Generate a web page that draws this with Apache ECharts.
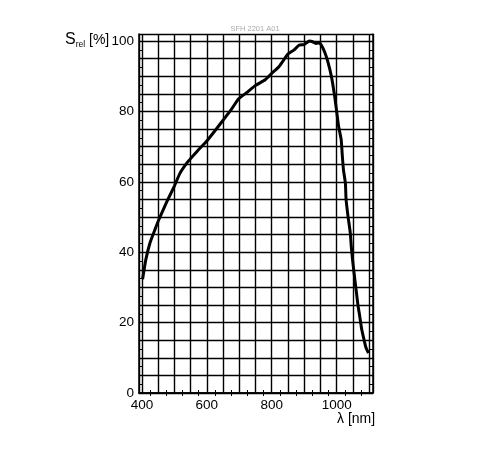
<!DOCTYPE html>
<html>
<head>
<meta charset="utf-8">
<script src="https://cdn.jsdelivr.net/npm/echarts@6/dist/echarts.min.js"></script>
<style>
  html, body { margin: 0; padding: 0; background: #fff; }
  #chart { width: 485px; height: 455px; }
</style>
</head>
<body>
<div id="chart"></div>
<script>
// relative spectral sensitivity
const wavelengths = [402, 412, 425, 440, 450, 475, 500, 517, 538, 550, 575, 600, 625, 650, 675, 698,
    725, 750, 780, 800, 822, 850, 868, 884, 900, 916, 926, 937, 947, 953, 963, 973, 984, 994,
    1000, 1006, 1014, 1017, 1021, 1027, 1029, 1035, 1042, 1045, 1050, 1056, 1061, 1066, 1071,
    1077, 1084, 1090, 1098];
const sensitivity = [32.3, 37.9, 42.7, 46.4, 48.8, 54, 58.8, 62.4, 65.3, 66.6, 69.2, 71.6, 74.5, 77.5, 80.5, 83.6,
    85.5, 87.4, 89, 90.8, 92.7, 96.3, 97.4, 98.8, 99, 100, 99.8, 99.3, 99.5, 98.8, 96.9, 94.1, 89.9, 84.2,
    80, 75.8, 72, 68, 63.4, 59.6, 55, 50.2, 45.5, 41.7, 37, 32.3, 28.5, 24.7, 21.9,
    18.2, 15.3, 13, 11.3];
const xTickLabels = [400, 600, 800, 1000];
const yTickLabels = [0, 20, 40, 60, 80, 100];

const FONT = "'Liberation Sans', Arial, sans-serif";

const curve = wavelengths.map((w, i) => [w, sensitivity[i]]);

function frameAxis(pos, isX) {
    // outer frame side with inward minor ticks only
    return {
        type: "value",
        position: pos,
        min: isX ? 391 : 0,
        max: isX ? 1112 : 102,
        splitNumber: isX ? 14 : 20,
        minInterval: isX ? 50 : 5,
        maxInterval: isX ? 50 : 5,
        axisLine: { show: true, lineStyle: { color: "#000", width: 1.5 } },
        axisTick: { show: false, inside: true },
        minorTick: { show: true, splitNumber: 2, length: 3, lineStyle: { color: "#000", width: 1 } },
        axisLabel: { show: false },
        splitLine: { show: false },
    };
}

const chart = echarts.init(document.getElementById("chart"));

const option = {
    animation: false,
    title: {
        text: "SFH 2201 A01",
        left: 250,
        top: 20,
        textAlign: "center",
        textStyle: {
            fontFamily: "'Liberation Sans Narrow', " + FONT,
            fontSize: 7.5,
            fontWeight: "normal",
            color: "#aaa",
        },
    },
    grid: { left: 139, top: 34, width: 234, height: 359 },
    xAxis: [
        Object.assign(frameAxis("bottom", true), {
            splitLine: { show: true, lineStyle: { color: "#000", width: 1.4 } },
            axisLabel: {
                show: true,
                margin: 5,
                color: "#000",
                fontFamily: FONT,
                fontSize: 13.5,
                formatter: (v) => (xTickLabels.includes(v) ? String(v) : ""),
            },
        }),
        frameAxis("top", true),
    ],
    yAxis: [
        Object.assign(frameAxis("left", false), {
            splitLine: { show: true, lineStyle: { color: "#000", width: 1.4 } },
            axisLabel: {
                show: true,
                margin: 5,
                color: "#000",
                fontFamily: FONT,
                fontSize: 13.5,
                formatter: (v) => (yTickLabels.includes(v) ? String(v) : ""),
            },
        }),
        frameAxis("right", false),
    ],
    graphic: [
        {
            type: "text",
            left: 65,
            top: 32,
            style: {
                text: "{s|S}{r|rel} {p|[%]}",
                fill: "#000",
                font: "14px " + FONT,
                rich: {
                    s: { fontSize: 16, lineHeight: 18, fontFamily: FONT, fill: "#000" },
                    r: { fontSize: 8.5, lineHeight: 10, verticalAlign: "bottom", fontFamily: FONT, fill: "#000" },
                    p: { fontSize: 14, lineHeight: 18, fontFamily: FONT, fill: "#000" },
                },
            },
        },
        {
            type: "text",
            left: 337,
            top: 412,
            style: { text: "λ [nm]", fill: "#000", font: "14px " + FONT },
        },
    ],
    series: [
        {
            type: "line",
            xAxisIndex: 0,
            yAxisIndex: 0,
            data: curve,
            showSymbol: false,
            smooth: 0.15,
            lineStyle: { color: "#000", width: 3 },
            z: 5,
        },
    ],
};

chart.setOption(option);
</script>
</body>
</html>
